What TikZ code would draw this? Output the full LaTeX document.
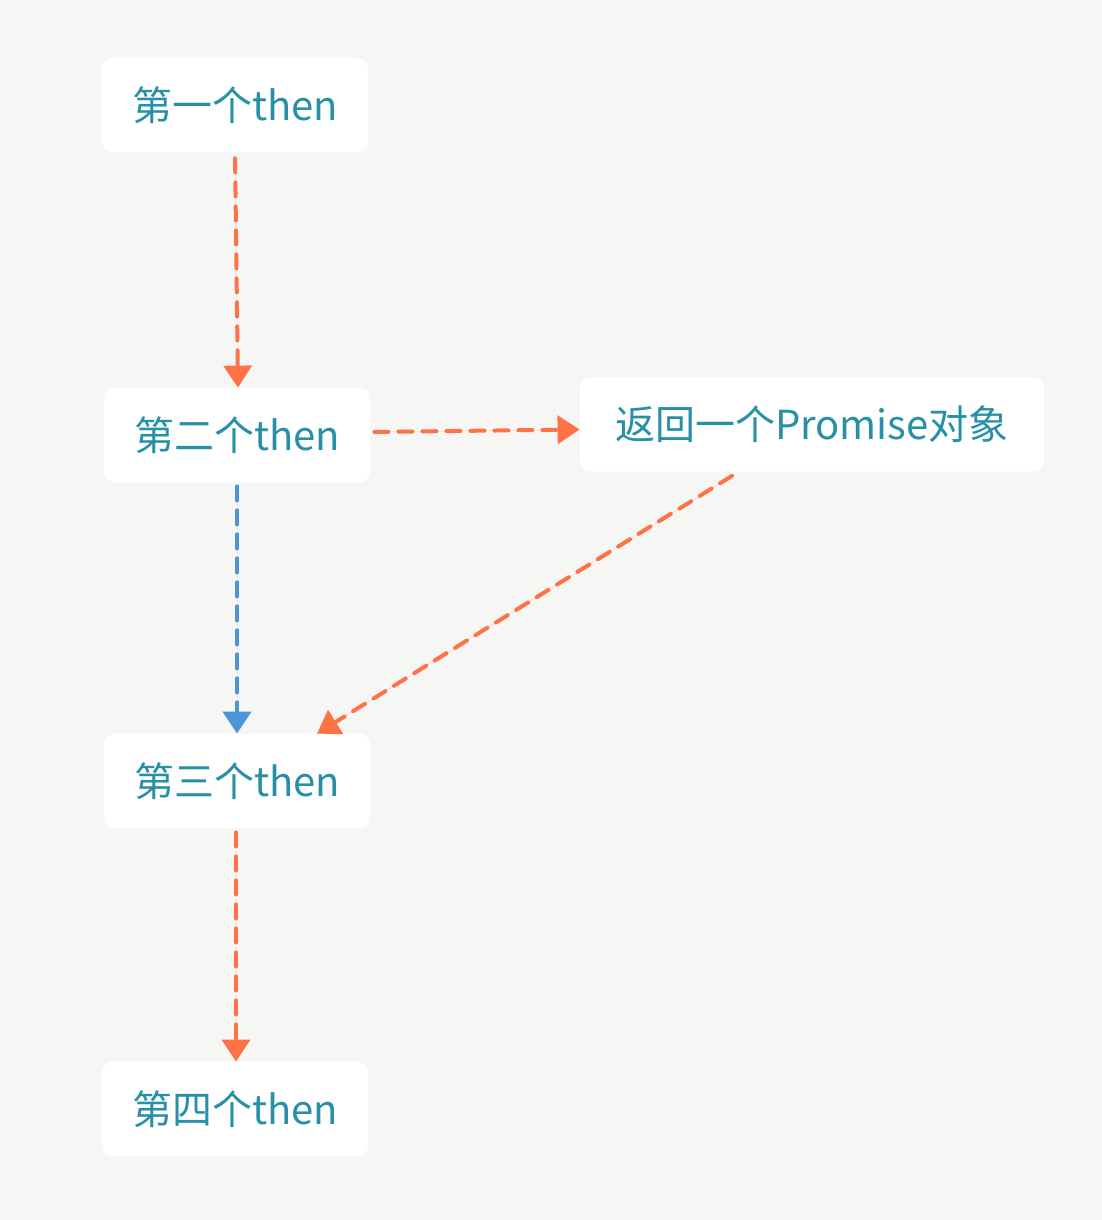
\documentclass[tikz,border=0pt]{standalone}
\usepackage{fontspec}
\setmainfont{Noto Sans CJK SC}
\usetikzlibrary{arrows.meta}
\definecolor{bg}{HTML}{F6F7F4}
\definecolor{txt}{HTML}{2790A6}
\definecolor{org}{HTML}{FF7246}
\definecolor{blu}{HTML}{4D96D5}
\begin{document}
\begin{tikzpicture}[x=0.5pt,y=-0.5pt,
  box/.style={fill=white,rounded corners=5pt,text=txt,font=\fontsize{20pt}{24pt}\selectfont,
    inner xsep=15pt,inner ysep=0pt,minimum height=47pt},
  thenbox/.style={box,minimum width=133pt},
  conn/.style={line width=2pt,dash pattern=on 7pt off 5pt,line cap=round,
    -{Triangle[width=14pt,length=11pt,line cap=butt]}},
  oconn/.style={conn,draw=org,fill=org},
  bconn/.style={conn,draw=blu,fill=blu}]
\fill[bg] (0,0) rectangle (1102,1220);
\useasboundingbox (0,0) rectangle (1102,1220);
\node[thenbox] (t1) at (235,105) {第一个then};
\node[thenbox] (t2) at (237,435) {第二个then};
\node[box,minimum width=232pt] (p) at (812,424.5) {返回一个Promise对象};
\node[thenbox] (t3) at (237,781) {第三个then};
\node[thenbox] (t4) at (235,1109) {第四个then};
\coordinate (ps) at ([xshift=-40pt,yshift=-2pt]p.south);
\coordinate (t3n) at ([xshift=40pt]t3.north);
\draw[oconn,shorten <=3pt] (t1.south) -- ([xshift=0.5pt]t2.north);
\draw[oconn,shorten <=2pt] ([yshift=1.5pt]t2.east) -- ([yshift=-2.5pt]p.west);
\draw[bconn,shorten <=2pt] (t2.south) -- (t3.north);
\draw[oconn] (ps) -- (t3n);
\draw[oconn,shorten <=2pt] ([xshift=-0.5pt]t3.south) -- ([xshift=0.5pt]t4.north);
\end{tikzpicture}
\end{document}
